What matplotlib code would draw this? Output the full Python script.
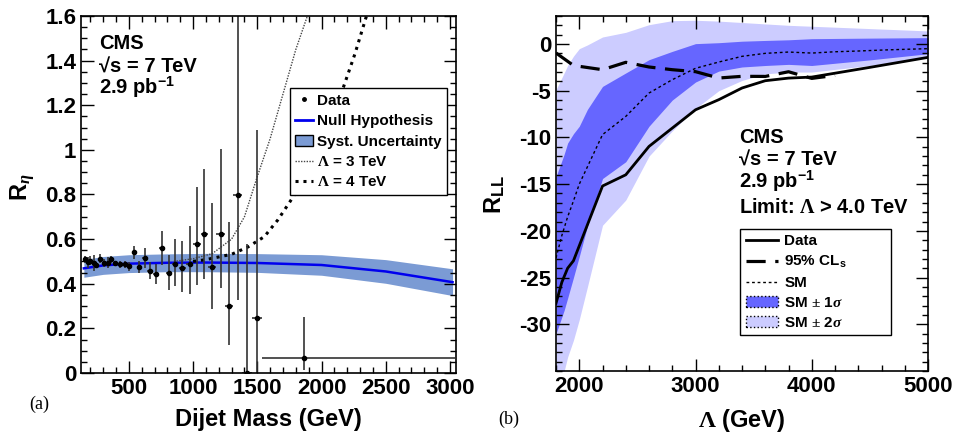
import matplotlib
matplotlib.use("Agg")
import matplotlib.pyplot as plt
from matplotlib.patches import Patch
from matplotlib.lines import Line2D
from matplotlib.ticker import MultipleLocator

plt.rcParams['font.family'] = ['Liberation Sans', 'DejaVu Sans']
plt.rcParams['font.weight'] = 'bold'
plt.rcParams['axes.unicode_minus'] = False
plt.rcParams['mathtext.fontset'] = 'custom'
plt.rcParams['mathtext.rm'] = 'Liberation Serif'
plt.rcParams['mathtext.it'] = 'Liberation Serif:italic'
plt.rcParams['mathtext.bf'] = 'Liberation Sans:bold'

# ---- panel (a): R_eta vs dijet mass ----
mass = [156, 180, 201, 227, 248, 279, 308, 334, 363, 396, 430, 467, 500, 542,
        581, 623, 667, 714, 761, 813, 859, 917, 974, 1031, 1089, 1151, 1214,
        1281, 1347, 1420, 1498, 1862]
r_eta = [0.51, 0.496, 0.504, 0.492, 0.484, 0.513, 0.493, 0.494, 0.51, 0.492,
         0.487, 0.487, 0.478, 0.541, 0.475, 0.514, 0.459, 0.444, 0.56, 0.45,
         0.49, 0.472, 0.49, 0.577, 0.623, 0.475, 0.623, 0.30, 0.798, 0.0,
         0.248, 0.069]
err_lo = [0.015, 0.025, 0.02, 0.035, 0.015, 0.02, 0.02, 0.025, 0.015, 0.012,
          0.015, 0.015, 0.02, 0.03, 0.025, 0.045, 0.037, 0.043, 0.075, 0.08,
          0.1, 0.11, 0.135, 0.184, 0.2, 0.186, 0.24, 0.176, 0.47, 0.0,
          0.248, 0.057]
err_hi = [0.015, 0.025, 0.02, 0.035, 0.015, 0.02, 0.02, 0.025, 0.015, 0.012,
          0.015, 0.015, 0.02, 0.03, 0.025, 0.045, 0.037, 0.043, 0.075, 0.08,
          0.11, 0.12, 0.17, 0.257, 0.29, 0.285, 0.38, 0.377, 1.0, 0.576,
          0.84, 0.182]
bin_lo = [10, 12, 11, 11, 12, 14, 14, 14, 15, 16, 17, 18, 19, 20, 20, 21, 22,
          23, 24, 25, 26, 27, 28, 29, 30, 31, 32, 33, 35, 36, 37, 328]
bin_hi = [10, 12, 11, 11, 12, 14, 14, 14, 15, 16, 17, 18, 19, 20, 20, 21, 22,
          23, 24, 25, 26, 27, 28, 29, 30, 31, 32, 33, 35, 36, 37, 1174]

null_m = [150, 300, 500, 800, 1100, 1500, 2000, 2500, 3020]
null_v = [0.469, 0.482, 0.490, 0.494, 0.495, 0.493, 0.484, 0.455, 0.407]
syst = [0.04, 0.04, 0.04, 0.04, 0.041, 0.042, 0.046, 0.053, 0.06]

l3_m = [850, 1000, 1150, 1300, 1400, 1500, 1600, 1700, 1800, 1890]
l3_v = [0.50, 0.512, 0.535, 0.60, 0.70, 0.88, 1.05, 1.25, 1.45, 1.60]
l4_m = [1000, 1100, 1200, 1300, 1425, 1555, 1660, 1780, 1900, 2000, 2100,
        2170, 2260, 2350]
l4_v = [0.50, 0.508, 0.52, 0.532, 0.564, 0.611, 0.686, 0.79, 0.92, 1.03,
        1.17, 1.28, 1.43, 1.60]

# ---- panel (b): R_LL vs Lambda ----
band_lam = [1800, 1870, 1900, 1950, 2000, 2070, 2200, 2400, 2600, 2800, 3000,
            3200, 3400, 3600, 3800, 4000, 4500, 5000]
two_up = [-4.9, -3.1, -2.3, -1.3, -0.5, -0.1, 0.75, 1.25, 2.07, 2.5, 2.54,
          2.45, 2.3, 2.15, 2.0, 1.9, 1.65, 1.4]
two_lo = [-38, -35, -33.5, -31.7, -29.5, -26.0, -19.4, -16.7, -12.0, -9.3,
          -6.9, -5.0, -3.9, -3.2, -3.0, -3.0, -2.3, -1.4]
one_up = [-14.2, -11.8, -10.6, -9.6, -8.8, -7.0, -4.54, -3.1, -1.68, -0.79,
          0.04, 0.14, 0.3, 0.38, 0.45, 0.57, 0.63, 0.68]
one_lo = [-31, -28.5, -27.2, -25, -22.75, -19.5, -14.4, -12.6, -8.8, -6.0,
          -4.07, -2.9, -2.46, -2.3, -2.18, -2.3, -1.7, -1.04]

sm_lam = [1800, 1850, 1900, 1950, 2000, 2200, 2400, 2600, 2800, 3000, 3200,
          3400, 3600, 3800, 4000, 4200, 4400, 4600, 4800, 5000]
sm = [-22.9, -20.5, -18.5, -16.8, -15.0, -9.7, -7.75, -5.25, -3.82, -2.6,
      -1.93, -1.32, -1.0, -0.86, -0.97, -0.83, -0.75, -0.65, -0.57, -0.5]

data_lam = [1800, 1850, 1900, 1950, 2200, 2400, 2600, 2800, 3000, 3200, 3400,
            3600, 3800, 4000, 4500, 5000]
data_r = [-27.75, -25.5, -24.0, -23.2, -15.2, -14.0, -10.96, -9.0, -7.04,
          -5.96, -4.71, -3.93, -3.65, -3.54, -2.5, -1.43]

cls_lam = [1800, 1950, 2200, 2400, 2600, 2800, 3000, 3200, 3400, 3600, 3800,
           4000, 4200]
cls = [-0.96, -2.3, -2.75, -1.96, -2.46, -2.75, -2.96, -3.64, -3.46, -3.47,
       -2.97, -3.68, -3.36]

BAND = '#7b9bd4'
DARK = '#6666ff'
LIGHT = '#ccccff'

fig = plt.figure(figsize=(9.58, 4.33), dpi=100)
ax1 = fig.add_axes([0.0846, 0.1386, 0.3914, 0.8245])
ax2 = fig.add_axes([0.5804, 0.1432, 0.3883, 0.8199])


def style(ax):
    ax.tick_params(which='both', direction='in', top=True, right=True,
                   labelsize=16, width=1)
    ax.tick_params(which='major', length=9)
    ax.tick_params(which='minor', length=4.5)
    for lab in ax.get_xticklabels() + ax.get_yticklabels():
        lab.set_fontweight('bold')
    for s in ax.spines.values():
        s.set_linewidth(1.2)


# panel (a)
lo = [v - s for v, s in zip(null_v, syst)]
hi = [v + s for v, s in zip(null_v, syst)]
ax1.fill_between(null_m, lo, hi, color=BAND, lw=0)
ax1.plot(null_m, null_v, color='#0000ee', lw=1.8)
ax1.plot(l3_m, l3_v, color='#444444', lw=1, ls=(0, (1, 1)))
ax1.plot(l4_m, l4_v, color='black', lw=2.2, ls=(0, (1, 1.6)))
ax1.errorbar(mass, r_eta, yerr=[err_lo, err_hi], xerr=[bin_lo, bin_hi],
             fmt='o', ms=3, color='black', ecolor='#333333', elinewidth=1.2,
             capsize=0)
ax1.set_xlim(128, 3047)
ax1.set_ylim(0, 1.6)
ax1.xaxis.set_major_locator(MultipleLocator(500))
ax1.xaxis.set_minor_locator(MultipleLocator(100))
ax1.yaxis.set_major_locator(MultipleLocator(0.2))
ax1.yaxis.set_minor_locator(MultipleLocator(0.05))
ax1.set_yticks([0, 0.2, 0.4, 0.6, 0.8, 1.0, 1.2, 1.4, 1.6],
               ['0', '0.2', '0.4', '0.6', '0.8', '1', '1.2', '1.4', '1.6'])
style(ax1)
ax1.set_xlabel('Dijet Mass (GeV)', fontsize=17, fontweight='bold')
ax1.set_ylabel(r'R$_{\eta}$', fontsize=17, fontweight='bold')
ax1.xaxis.set_label_coords(0.5, -0.098)
ax1.yaxis.set_label_coords(-0.117, 0.52)
ax1.text(0.048, 0.9076, 'CMS', transform=ax1.transAxes, fontsize=14.5,
         va='baseline')
ax1.text(0.048, 0.842, '√s = 7 TeV', transform=ax1.transAxes, fontsize=14.5,
         va='baseline')
ax1.text(0.048, 0.781, r'2.9 pb$^{\mathbf{-1}}$', transform=ax1.transAxes,
         fontsize=14.5, va='baseline')

h1 = [Line2D([], [], marker='o', ms=2.5, color='black', ls='none'),
      Line2D([], [], color='#0000ee', lw=2),
      Patch(facecolor=BAND, edgecolor='black', lw=1),
      Line2D([], [], color='#444444', lw=1, ls=(0, (1, 1))),
      Line2D([], [], color='black', lw=2.2, ls=(0, (1, 1.6)))]
n1 = ['Data', 'Null Hypothesis', 'Syst. Uncertainty', r'$\Lambda$ = 3 TeV',
      r'$\Lambda$ = 4 TeV']
leg1 = ax1.legend(h1, n1, loc='upper left', bbox_to_anchor=(0.557, 0.797),
                  fontsize=11, frameon=True, fancybox=False, edgecolor='black',
                  framealpha=1, handlelength=1.15, handletextpad=0.25,
                  labelspacing=0.42, borderpad=0.35, borderaxespad=0)
leg1.get_frame().set_linewidth(1)

# panel (b)
ax2.fill_between(band_lam, two_lo, two_up, color=LIGHT, lw=0)
ax2.fill_between(band_lam, one_lo, one_up, color=DARK, lw=0)
ax2.plot(sm_lam, sm, color='black', lw=1, ls=(0, (2, 2)))
ax2.plot(cls_lam, cls, color='black', lw=2.3, ls=(0, (6, 3)))
ax2.plot(data_lam, data_r, color='black', lw=2)
ax2.set_xlim(1800, 5000)
ax2.set_ylim(-35, 3)
ax2.xaxis.set_major_locator(MultipleLocator(1000))
ax2.xaxis.set_minor_locator(MultipleLocator(200))
ax2.set_yticks([-30, -25, -20, -15, -10, -5, 0])
ax2.yaxis.set_minor_locator(MultipleLocator(1))
style(ax2)
ax2.set_xlabel(r'$\Lambda$ (GeV)', fontsize=17, fontweight='bold')
ax2.set_ylabel(r'R$_{\mathbf{LL}}$', fontsize=17, fontweight='bold')
ax2.xaxis.set_label_coords(0.5, -0.101)
ax2.yaxis.set_label_coords(-0.132, 0.496)
for y, s in [(0.642, 'CMS'), (0.578, '√s = 7 TeV'),
             (0.515, r'2.9 pb$^{\mathbf{-1}}$'),
             (0.445, r'Limit: $\Lambda$ > 4.0 TeV')]:
    ax2.text(0.492, y, s, transform=ax2.transAxes, fontsize=14.5,
             va='baseline')

h2 = [Line2D([], [], color='black', lw=2),
      Line2D([], [], color='black', lw=2.3, ls=(0, (6, 3))),
      Line2D([], [], color='black', lw=1, ls=(0, (2, 2))),
      Patch(facecolor=DARK, edgecolor='black', lw=1, ls=':'),
      Patch(facecolor=LIGHT, edgecolor='black', lw=1, ls=':')]
n2 = ['Data', r'95% CL$_{\mathbf{s}}$', 'SM', r'SM $\pm$ 1$\sigma$',
      r'SM $\pm$ 2$\sigma$']
leg2 = ax2.legend(h2, n2, loc='upper left',
                  bbox_to_anchor=(0.495, 0.107, 0.405, 0.293), mode='expand',
                  fontsize=11, frameon=True, fancybox=False, edgecolor='black',
                  framealpha=1, handlelength=2.1, handletextpad=0.45,
                  labelspacing=0.38, borderpad=0.35, borderaxespad=0)
leg2.get_frame().set_linewidth(1)

fig.text(0.031, 0.055, '(a)', family='Liberation Serif', fontweight='normal',
         fontsize=13)
fig.text(0.520, 0.02, '(b)', family='Liberation Serif', fontweight='normal',
         fontsize=13)

fig.savefig('out.png', dpi=100)
